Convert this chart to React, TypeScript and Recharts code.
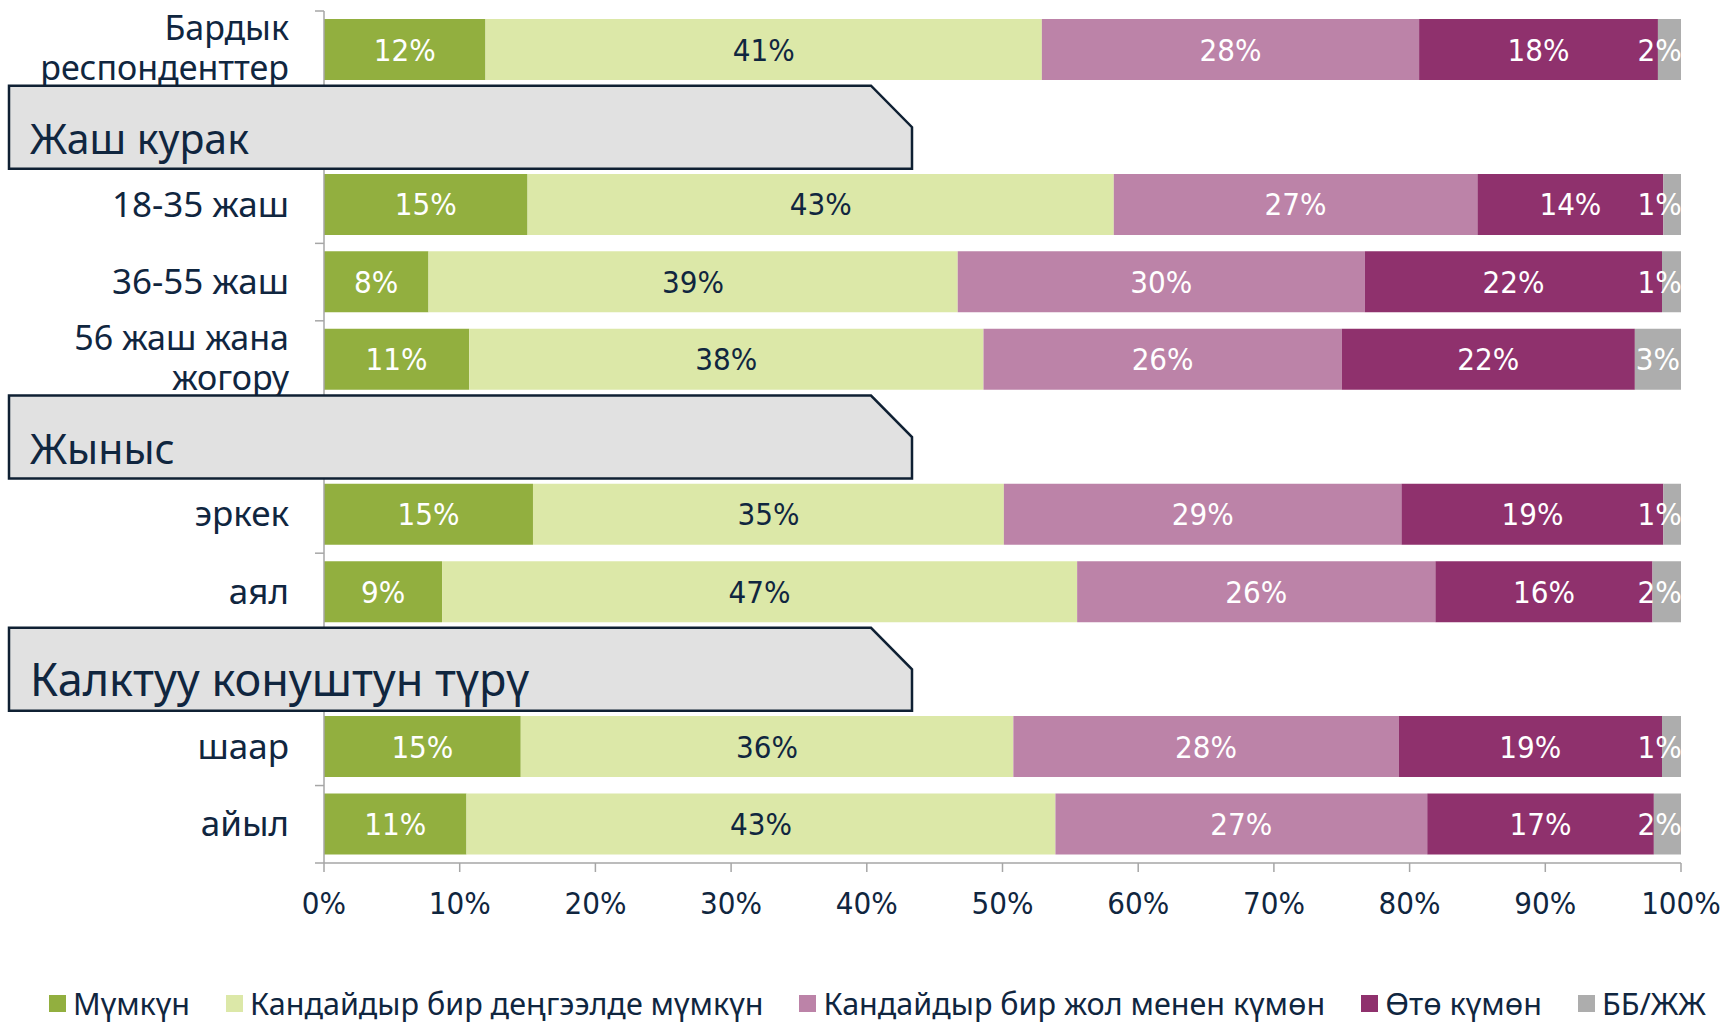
import React from 'react';
import { BarChart, Bar, XAxis, YAxis, Legend, LabelList } from 'recharts';

// rows, top to bottom; a "\n" breaks a long label in two lines
const categories = [
  'Бардык\nреспонденттер',
  'Жаш курак',
  '18-35 жаш',
  '36-55 жаш',
  '56 жаш жана\nжогору',
  'Жыныс',
  'эркек',
  'аял',
  'Калктуу конуштун түрү',
  'шаар',
  'айыл',
];
const headerRows = ['Жаш курак', 'Жыныс', 'Калктуу конуштун түрү'];

const possible = [11.9, null, 15.0, 7.7, 10.7, null, 15.4, 8.7, null, 14.5, 10.5];
const somewhatPossible = [41.0, null, 43.2, 39.0, 37.9, null, 34.7, 46.8, null, 36.3, 43.4];
const somewhatDoubtful = [27.8, null, 26.8, 30.0, 26.4, null, 29.3, 26.4, null, 28.4, 27.4];
const veryDoubtful = [17.6, null, 13.7, 21.9, 21.6, null, 19.3, 16.0, null, 19.4, 16.7];
const dontKnow = [1.7, null, 1.3, 1.4, 3.4, null, 1.3, 2.1, null, 1.4, 2.0];

const xTicks = [0, 10, 20, 30, 40, 50, 60, 70, 80, 90, 100];

const series = [
  { key: 'possible', name: 'Мүмкүн', color: '#92AF3F', text: '#FFFFFF' },
  { key: 'somewhatPossible', name: 'Кандайдыр бир деңгээлде мүмкүн', color: '#DCE8A8', text: '#10263F' },
  { key: 'somewhatDoubtful', name: 'Кандайдыр бир жол менен күмөн', color: '#BC83A8', text: '#FFFFFF' },
  { key: 'veryDoubtful', name: 'Өтө күмөн', color: '#8F316D', text: '#FFFFFF' },
  { key: 'dontKnow', name: 'ББ/ЖЖ', color: '#ADADAD', text: '#FFFFFF' },
];

const data = categories.map((name, i) => ({
  name,
  possible: possible[i],
  somewhatPossible: somewhatPossible[i],
  somewhatDoubtful: somewhatDoubtful[i],
  veryDoubtful: veryDoubtful[i],
  dontKnow: dontKnow[i],
}));

const W = 1721;
const H = 1025;
const TOP = 11;
const RIGHT = 40;
const AXIS_X = 324;
const X_AXIS_H = 122;
const LEGEND_H = 36;
const BOTTOM = 4;
const PLOT_BOTTOM = H - BOTTOM - LEGEND_H - X_AXIS_H;
const BAND = (PLOT_BOTTOM - TOP) / categories.length;
const PLOT_RIGHT = W - RIGHT;

const NAVY = '#10263F';
const AXIS_GREY = '#A6A6A6';
const NARROW = "'Liberation Sans Narrow', 'DejaVu Sans Condensed', 'Roboto Condensed', Roboto, sans-serif";
const SANS = "'Noto Sans', 'Open Sans', sans-serif";

const YTick = (props: any) => {
  const { y, payload, index } = props;
  const name: string = payload.value;
  if (headerRows.includes(name)) {
    const h = 83;
    const top = y - h / 2;
    const bot = y + h / 2;
    const pts = `9,${top} 871,${top} 912,${y} 912,${bot} 9,${bot}`;
    return (
      <g>
        <polygon points={pts} fill="#E1E1E1" stroke="#0F2033" strokeWidth={2.5} />
        <text x={30} y={y + 27} fill={NAVY} fontFamily={SANS} fontSize={name.length > 10 ? 45 : 41}>
          {name}
        </text>
      </g>
    );
  }
  const lines = name.split('\n');
  const prevHeader = index > 0 && headerRows.includes(categories[index - 1]);
  const isLast = index === categories.length - 1;
  return (
    <g>
      {!prevHeader && (
        <line x1={AXIS_X - 9} x2={AXIS_X} y1={y - BAND / 2} y2={y - BAND / 2} stroke={AXIS_GREY} strokeWidth={1.5} />
      )}
      {isLast && (
        <line x1={AXIS_X - 9} x2={AXIS_X} y1={y + BAND / 2} y2={y + BAND / 2} stroke={AXIS_GREY} strokeWidth={1.5} />
      )}
      {lines.length === 1 ? (
        <text x={289} y={y + 12} textAnchor="end" fill={NAVY} fontFamily={SANS} fontSize={35}>
          {name}
        </text>
      ) : (
        <text textAnchor="end" fill={NAVY} fontFamily={SANS} fontSize={34}>
          <tspan x={289} y={y - 10}>{lines[0]}</tspan>
          <tspan x={289} y={y + 30.5}>{lines[1]}</tspan>
        </text>
      )}
    </g>
  );
};

const XTick = (props: any) => {
  const { x, payload } = props;
  return (
    <text x={x} y={PLOT_BOTTOM + 51} textAnchor="middle" fill={NAVY} fontFamily={NARROW} fontSize={31}>
      {payload.value}%
    </text>
  );
};

const labelWidth = (s: string, fs: number) =>
  s.split('').reduce((w, c) => w + (c === '%' ? 0.729 : 0.456), 0) * fs;

const SegLabel = (props: any) => {
  const { x, y, width, height, value, color } = props;
  if (value == null) return null;
  const txt = `${Math.round(value)}%`;
  const fs = 31;
  const w = labelWidth(txt, fs);
  let cx = x + width / 2;
  if (cx + w / 2 > PLOT_RIGHT - 3) cx = PLOT_RIGHT - 3 - w / 2;
  return (
    <text x={cx} y={y + height / 2 + 11} textAnchor="middle" fill={color} fontFamily={NARROW} fontSize={fs}>
      {txt}
    </text>
  );
};

const LegendContent = (props: any) => {
  const items = [...(props.payload || [])].sort(
    (a: any, b: any) =>
      series.findIndex((s) => s.name === a.value) - series.findIndex((s) => s.name === b.value)
  );
  return (
    <div
      style={{
        height: LEGEND_H,
        display: 'flex',
        alignItems: 'center',
        paddingLeft: 49,
        fontFamily: SANS,
        fontSize: 30.5,
        color: NAVY,
        whiteSpace: 'nowrap',
      }}
    >
      {items.map((p: any) => (
        <div key={p.value} style={{ display: 'flex', alignItems: 'center', marginRight: 36 }}>
          <span style={{ width: 17, height: 17, background: p.color, marginRight: 7, display: 'inline-block' }} />
          <span>{p.value}</span>
        </div>
      ))}
    </div>
  );
};

export default function App() {
  return (
    <div style={{ position: 'absolute', left: 0, top: 0, background: '#fff' }}>
      <BarChart
        width={W}
        height={H}
        data={data}
        layout="vertical"
        margin={{ top: TOP, right: RIGHT, bottom: BOTTOM, left: 0 }}
      >
        <XAxis
          type="number"
          domain={[0, 100]}
          ticks={xTicks}
          interval={0}
          height={X_AXIS_H}
          axisLine={{ stroke: AXIS_GREY, strokeWidth: 1.5 }}
          tickLine={{ stroke: AXIS_GREY, strokeWidth: 1.5 }}
          tickSize={9}
          tick={<XTick />}
        />
        <YAxis
          type="category"
          dataKey="name"
          width={AXIS_X}
          interval={0}
          axisLine={{ stroke: AXIS_GREY, strokeWidth: 1.5 }}
          tickLine={false}
          tick={<YTick />}
        />
        <Legend verticalAlign="bottom" align="left" content={<LegendContent />} />
        {series.map((s) => (
          <Bar
            key={s.key}
            dataKey={s.key}
            name={s.name}
            stackId="a"
            fill={s.color}
            barSize={61}
            isAnimationActive={false}
          >
            <LabelList dataKey={s.key} content={(p: any) => <SegLabel {...p} color={s.text} />} />
          </Bar>
        ))}
      </BarChart>
    </div>
  );
}
